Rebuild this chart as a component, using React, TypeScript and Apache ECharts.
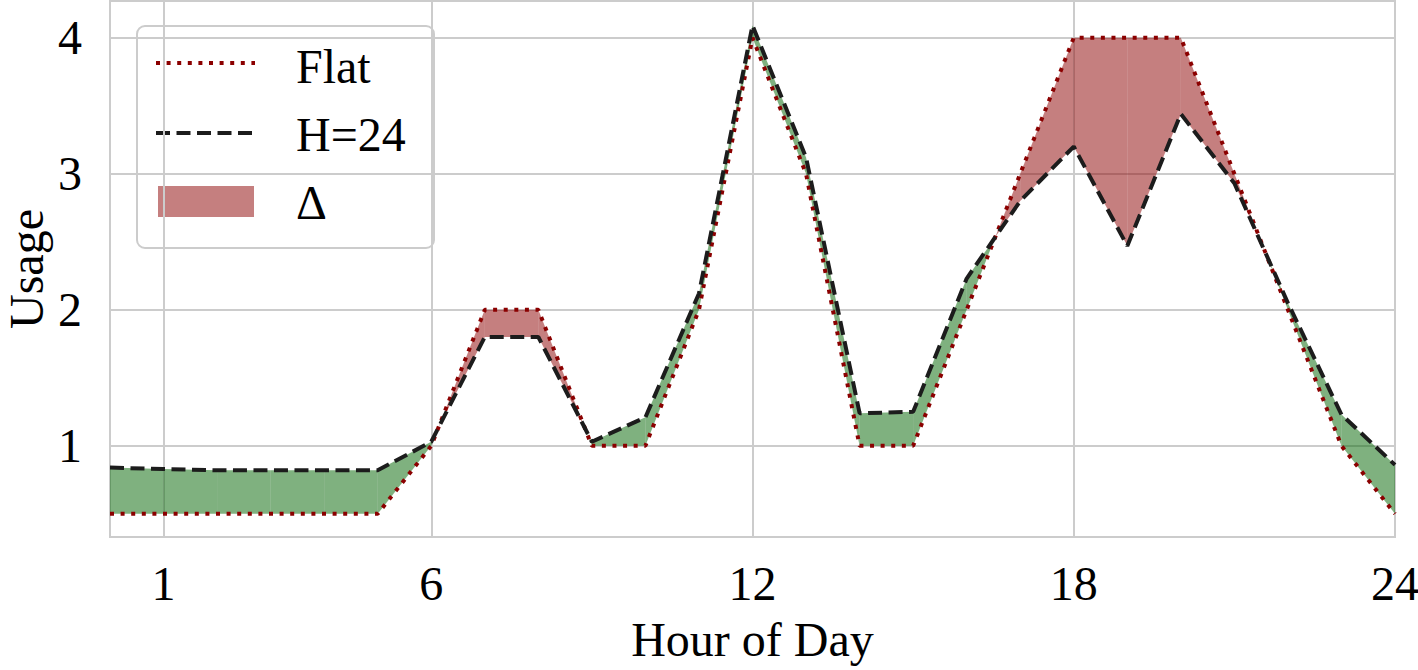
import React, { useEffect, useRef } from "react";
import * as echarts from "echarts";

// ---- data ----
const hours = [0, 1, 2, 3, 4, 5, 6, 7, 8, 9, 10, 11, 12, 13, 14, 15, 16, 17, 18, 19, 20, 21, 22, 23, 24];
const flatUsage = [0.5, 0.5, 0.5, 0.5, 0.5, 0.5, 1.0, 2.0, 2.0, 1.0, 1.0, 2.0, 4.0, 3.0, 1.0, 1.0, 2.0, 3.0, 4.0, 4.0, 4.0, 3.0, 2.0, 1.0, 0.5];
const h24Usage = [0.84, 0.83, 0.82, 0.82, 0.82, 0.82, 1.03, 1.8, 1.8, 1.03, 1.21, 2.12, 4.09, 3.12, 1.24, 1.25, 2.23, 2.8, 3.2, 2.47, 3.44, 2.93, 2.05, 1.23, 0.86];
const xTickValues = [1, 6, 12, 18, 24];
const yTickValues = [1, 2, 3, 4];
const legendLabels = ["Flat", "H=24", "\u0394"];
const xAxisTitle = "Hour of Day";
const yAxisTitle = "Usage";

const FONT = "'Liberation Serif', 'Times New Roman', serif";
const FS = 48;
const RED_FILL = "rgba(139,0,0,0.5)";
const GREEN_FILL = "rgba(0,100,0,0.5)";
const FLAT_COLOR = "#8b0000";
const H24_COLOR = "#1c1c1c";
const DOT = [4, 6.6];
const DASH = [14, 6.5];
const LW = 4;

export default function App() {
  const ref = useRef<HTMLDivElement>(null);

  useEffect(() => {
    if (!ref.current) return;
    const chart = echarts.init(ref.current, null, { renderer: "svg" });

    const flatData = hours.map((h, i) => [h, flatUsage[i]]);
    const h24Data = hours.map((h, i) => [h, h24Usage[i]]);
    const segData = hours.slice(0, -1).map((h, i) => [
      h,
      hours[i + 1],
      flatUsage[i],
      flatUsage[i + 1],
      h24Usage[i],
      h24Usage[i + 1],
    ]);

    const renderItem = (params: any, api: any) => {
      const x0 = api.value(0);
      const x1 = api.value(1);
      const f0 = api.value(2);
      const f1 = api.value(3);
      const b0 = api.value(4);
      const b1 = api.value(5);
      const d0 = f0 - b0;
      const d1 = f1 - b1;
      const col = (d: number) => (d > 0 ? RED_FILL : GREEN_FILL);
      const children: any[] = [];
      const poly = (pts: number[][], fill: string) => {
        children.push({
          type: "polygon",
          shape: { points: pts.map((p) => api.coord(p)) },
          style: { fill, stroke: null },
        });
      };
      if (d0 * d1 < 0) {
        const t = d0 / (d0 - d1);
        const xc = x0 + t * (x1 - x0);
        const yc = f0 + t * (f1 - f0);
        poly([[x0, f0], [xc, yc], [x0, b0]], col(d0));
        poly([[xc, yc], [x1, f1], [x1, b1]], col(d1));
      } else {
        poly([[x0, f0], [x1, f1], [x1, b1], [x0, b0]], col(d0 + d1));
      }
      return { type: "group", children };
    };

    const lx = 136;
    const ly = 25;

    const option: any = {
      animation: false,
      backgroundColor: "#ffffff",
      grid: {
        left: 110,
        right: 23,
        top: 1,
        bottom: 133,
        containLabel: false,
        outerBoundsMode: "none",
        show: true,
        borderColor: "#cccccc",
        borderWidth: 2,
        backgroundColor: "#ffffff",
      },
      xAxis: {
        type: "value",
        min: 0,
        max: 24,
        axisLine: { show: false },
        axisTick: { show: false, customValues: xTickValues },
        axisLabel: {
          customValues: xTickValues,
          margin: 22,
          fontFamily: FONT,
          fontSize: FS,
          color: "#000",
        },
        splitLine: { show: true, lineStyle: { color: "#cccccc", width: 2 } },
        name: xAxisTitle,
        nameLocation: "middle",
        nameGap: 78,
        nameMoveOverlap: false,
        nameTextStyle: { fontFamily: FONT, fontSize: FS, color: "#000" },
      },
      yAxis: {
        type: "value",
        min: 0.33,
        max: 4.27,
        axisLine: { show: false },
        axisTick: { show: false, customValues: yTickValues },
        axisLabel: {
          customValues: yTickValues,
          margin: 28,
          fontFamily: FONT,
          fontSize: FS,
          color: "#000",
        },
        splitLine: { show: true, lineStyle: { color: "#cccccc", width: 2 } },
        name: yAxisTitle,
        nameLocation: "middle",
        nameGap: 60,
        nameMoveOverlap: false,
        nameTextStyle: { fontFamily: FONT, fontSize: FS, color: "#000" },
      },
      series: [
        {
          name: legendLabels[2],
          type: "custom",
          renderItem,
          data: segData,
          z: 1,
          silent: true,
        },
        {
          name: legendLabels[0],
          type: "line",
          data: flatData,
          symbol: "none",
          z: 2,
          lineStyle: { color: FLAT_COLOR, width: LW, type: DOT, cap: "butt" },
        },
        {
          name: legendLabels[1],
          type: "line",
          data: h24Data,
          symbol: "none",
          z: 3,
          lineStyle: { color: H24_COLOR, width: LW, type: DASH, cap: "butt" },
        },
      ],
      graphic: [
        {
          type: "group",
          left: lx,
          top: ly,
          z: 100,
          children: [
            {
              type: "rect",
              shape: { x: 0, y: 0, width: 297, height: 222, r: 8 },
              style: { fill: "rgba(255,255,255,0.8)", stroke: "#cccccc", lineWidth: 2 },
            },
            {
              type: "line",
              shape: { x1: 19, y1: 37, x2: 118, y2: 37 },
              style: { stroke: FLAT_COLOR, lineWidth: LW, lineDash: DOT, lineCap: "butt" },
            },
            {
              type: "line",
              shape: { x1: 19, y1: 107, x2: 118, y2: 107 },
              style: { stroke: H24_COLOR, lineWidth: LW, lineDash: DASH, lineCap: "butt" },
            },
            {
              type: "rect",
              shape: { x: 21, y: 160, width: 96, height: 31 },
              style: { fill: RED_FILL },
            },
            {
              type: "text",
              x: 159,
              y: 40,
              style: { text: legendLabels[0], font: `${FS}px ${FONT}`, fill: "#000", verticalAlign: "middle" },
            },
            {
              type: "text",
              x: 159,
              y: 108,
              style: { text: legendLabels[1], font: `${FS}px ${FONT}`, fill: "#000", verticalAlign: "middle" },
            },
            {
              type: "text",
              x: 159,
              y: 176,
              style: { text: legendLabels[2], font: `${FS}px ${FONT}`, fill: "#000", verticalAlign: "middle" },
            },
          ],
        },
      ],
    };

    chart.setOption(option);
    return () => {
      chart.dispose();
    };
  }, []);

  return (
    <div
      ref={ref}
      style={{ position: "fixed", left: 0, top: 0, width: 1418, height: 670, background: "#fff" }}
    />
  );
}
